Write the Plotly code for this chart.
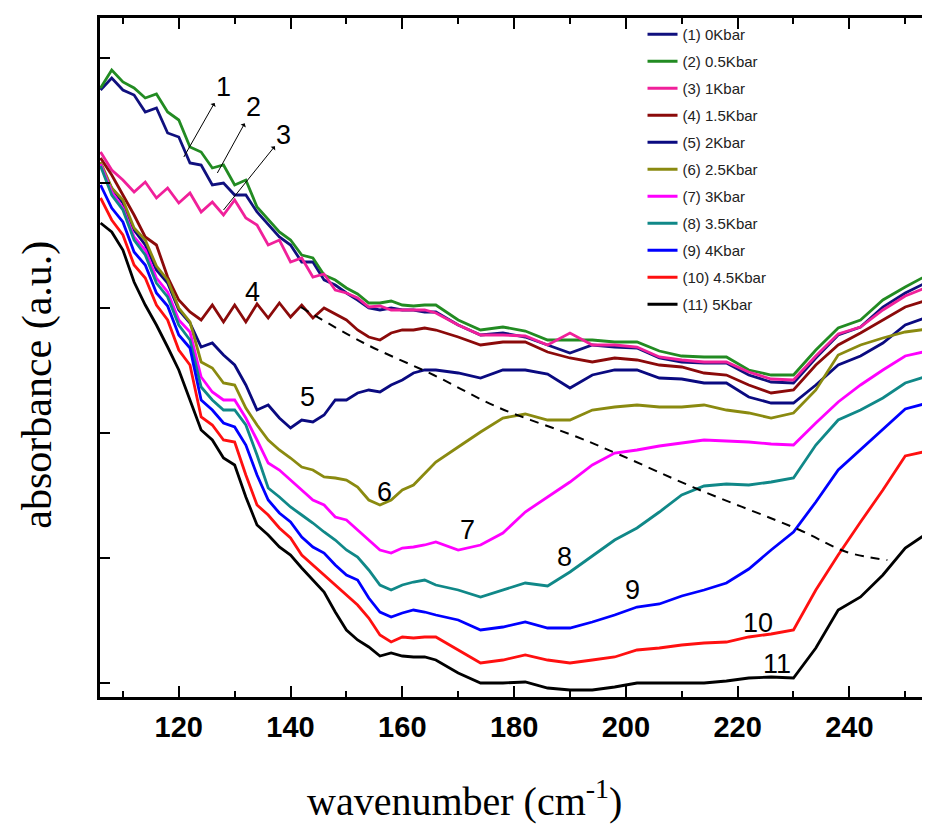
import plotly.graph_objects as go

# ---- data (wavenumber grid in cm^-1, absorbance in arbitrary units) ----
wavenumber = [106, 108, 110, 112, 114, 116, 118, 120, 122, 124, 126, 128, 130, 132, 134, 136,
              138, 140, 142, 144, 146, 148, 150, 152, 154, 156, 158, 160, 162, 164, 166,
              170, 174, 178, 182, 186, 190, 194, 198, 202, 206, 210, 214, 218, 222, 226, 230,
              234, 238, 242, 246, 250, 254]

abs_0kbar = [718, 730, 718, 713, 696, 700, 675, 671, 645, 643, 623, 625, 613, 613, 596, 583,
             571, 563, 546, 546, 528, 523, 515, 508, 500, 498, 500, 498, 498, 496, 496,
             483, 473, 475, 471, 463, 455, 463, 461, 460, 450, 446, 445, 445, 433, 426, 425,
             450, 473, 481, 501, 515, 526]
abs_05kbar = [720, 738, 726, 720, 710, 714, 696, 688, 661, 656, 640, 643, 623, 628, 601, 588,
              576, 568, 553, 550, 533, 528, 520, 514, 505, 505, 507, 503, 502, 503, 503,
              488, 478, 481, 477, 468, 468, 468, 466, 466, 457, 452, 451, 451, 438, 433, 433,
              458, 480, 488, 508, 521, 533]
abs_1kbar = [656, 638, 628, 616, 626, 610, 620, 605, 615, 596, 606, 593, 608, 590, 583, 563,
             568, 546, 550, 531, 534, 518, 515, 510, 501, 502, 498, 498, 498, 498, 495,
             483, 473, 473, 472, 463, 475, 463, 463, 461, 451, 448, 446, 446, 436, 429, 428,
             452, 474, 481, 498, 512, 521]
abs_15kbar = [650, 633, 613, 593, 571, 563, 531, 508, 496, 488, 503, 486, 503, 486, 504, 490,
              505, 491, 503, 490, 500, 494, 488, 478, 471, 468, 475, 478, 478, 480, 478,
              471, 463, 466, 466, 456, 450, 446, 450, 448, 443, 441, 435, 433, 423, 415, 418,
              443, 463, 475, 488, 501, 508]
abs_2kbar = [643, 620, 605, 578, 563, 538, 525, 498, 485, 461, 465, 453, 443, 423, 398, 403,
             390, 380, 388, 386, 393, 408, 408, 415, 418, 416, 423, 428, 435, 438, 438,
             435, 430, 438, 438, 434, 420, 433, 438, 438, 430, 429, 425, 425, 411, 405, 405,
             423, 443, 452, 465, 483, 491]
abs_25kbar = [646, 620, 608, 580, 568, 542, 528, 500, 486, 446, 440, 425, 423, 400, 383, 368,
              358, 350, 341, 338, 331, 330, 328, 321, 308, 303, 308, 318, 323, 335, 346,
              361, 376, 390, 394, 388, 388, 398, 401, 403, 401, 401, 403, 398, 395, 390, 395,
              418, 453, 463, 470, 476, 479]
abs_3kbar = [644, 616, 600, 571, 558, 530, 516, 488, 476, 431, 416, 408, 408, 390, 368, 345,
             338, 328, 318, 308, 303, 291, 288, 278, 268, 258, 255, 260, 261, 263, 266,
             258, 263, 275, 296, 311, 326, 343, 355, 358, 362, 365, 368, 367, 366, 364, 363,
             385, 406, 423, 438, 452, 457]
abs_35kbar = [642, 613, 598, 568, 553, 525, 511, 483, 468, 421, 408, 398, 398, 383, 353, 320,
              311, 301, 293, 285, 276, 268, 258, 251, 238, 223, 218, 223, 226, 228, 223,
              218, 211, 218, 225, 222, 236, 252, 268, 280, 296, 313, 322, 324, 323, 326, 330,
              363, 388, 398, 410, 425, 432]
abs_4kbar = [623, 600, 586, 556, 543, 515, 502, 473, 460, 408, 398, 385, 381, 363, 333, 308,
             295, 286, 271, 261, 255, 243, 233, 228, 210, 196, 191, 195, 198, 196, 193,
             188, 178, 181, 186, 180, 180, 186, 193, 201, 204, 212, 218, 225, 239, 258, 276,
             306, 338, 358, 378, 399, 405]
abs_45kbar = [610, 588, 573, 543, 530, 503, 488, 458, 443, 391, 383, 368, 366, 333, 303, 293,
              280, 270, 253, 243, 233, 223, 213, 203, 190, 173, 166, 171, 170, 171, 171,
              158, 145, 148, 153, 148, 145, 148, 151, 158, 160, 163, 165, 166, 171, 174, 178,
              218, 253, 286, 318, 352, 357]
abs_5kbar = [585, 576, 558, 526, 503, 483, 461, 438, 408, 378, 368, 350, 343, 311, 283, 273,
             261, 253, 240, 228, 216, 196, 178, 168, 161, 152, 155, 152, 151, 151, 148,
             135, 125, 125, 126, 120, 118, 118, 121, 125, 125, 125, 125, 127, 130, 131, 130,
             160, 198, 211, 233, 260, 275]

series_names = ["(1) 0Kbar", "(2) 0.5Kbar", "(3) 1Kbar", "(4) 1.5Kbar", "(5) 2Kbar",
                "(6) 2.5Kbar", "(7) 3Kbar", "(8) 3.5Kbar", "(9) 4Kbar", "(10) 4.5Kbar",
                "(11) 5Kbar"]
series_values = [abs_0kbar, abs_05kbar, abs_1kbar, abs_15kbar, abs_2kbar, abs_25kbar,
                 abs_3kbar, abs_35kbar, abs_4kbar, abs_45kbar, abs_5kbar]
series_colors = ["#10107e", "#228b22", "#f0209a", "#8b0a0a", "#0a0a80", "#8a8a10",
                 "#ff00ff", "#108888", "#0000ff", "#ff1010", "#000000"]

# dashed guide line through the band minimum shift
guide_x = [141.8, 153.1, 165.6, 177.0, 191.3, 199.0, 212.8, 231.1, 239.5, 246.8]
guide_y = [501, 465, 433, 401, 371, 353, 319, 278, 256, 248]

# curve labels
label_text = ["4", "5", "6", "7", "8", "9", "10", "11"]
label_x = [133.2, 143.0, 156.8, 171.7, 189.0, 201.2, 223.7, 227.1]
label_y = [516, 411, 316, 278, 251, 218, 185, 144]

# arrow labels for curves 1-3 (label position and the curve point the arrow starts from)
arrow_text = ["1", "2", "3"]
arrow_text_x = [128.0, 133.4, 138.8]
arrow_text_y = [721, 701, 673]
arrow_tail_x = [120.9, 126.9, 128.0]
arrow_tail_y = [651, 635, 598]

fig = go.Figure()

for i, (name, vals, col) in enumerate(zip(series_names, series_values, series_colors)):
    fig.add_trace(go.Scatter(
        x=wavenumber, y=vals, mode="lines", name=name,
        line=dict(color=col, width=2.8),
        legendgroup=f"g{i}",
    ))

fig.add_trace(go.Scatter(
    x=guide_x, y=guide_y, mode="lines", showlegend=False,
    line=dict(color="black", width=2, dash="9px,7px", shape="spline"),
))

label_font = dict(family="Liberation Sans, Arial", size=27, color="black")
annotations = []
for t, x, y in zip(label_text, label_x, label_y):
    annotations.append(dict(x=x, y=y, text=t, showarrow=False, font=label_font))
for t, x, y, tx, ty in zip(arrow_text, arrow_text_x, arrow_text_y, arrow_tail_x, arrow_tail_y):
    annotations.append(dict(x=tx, y=ty, ax=x, ay=y, axref="x", ayref="y", text=t,
                            font=label_font, showarrow=True, arrowside="start",
                            arrowhead=2, arrowsize=1.4, arrowwidth=1, arrowcolor="black",
                            startstandoff=0, standoff=0))

annotations.append(dict(xref="paper", yref="paper", x=0.444, y=-0.149,
                        text="wavenumber (cm<sup>-1</sup>)", showarrow=False,
                        xanchor="center", yanchor="middle",
                        font=dict(family="Liberation Serif, Times New Roman", size=40, color="black")))
annotations.append(dict(xref="paper", yref="paper", x=-0.0754, y=0.46,
                        text="absorbance (a.u.)", showarrow=False, textangle=-90,
                        xanchor="center", yanchor="middle",
                        font=dict(family="Liberation Serif, Times New Roman", size=42, color="black")))

fig.update_layout(
    width=914, height=816,
    margin=dict(l=92, r=0, t=10, b=127),
    paper_bgcolor="white", plot_bgcolor="white",
    annotations=annotations,
    legend=dict(x=0.66, y=1.0, xanchor="left", yanchor="top",
                bgcolor="rgba(0,0,0,0)", tracegroupgap=4.5,
                font=dict(family="Liberation Sans, Arial", size=15, color="#222")),
)

fig.update_xaxes(
    range=[105.9, 253.0], tick0=120, dtick=20,
    ticks="inside", ticklen=11, tickwidth=2, tickcolor="black",
    minor=dict(ticks="inside", ticklen=6, tickwidth=2, dtick=10, tick0=110, tickcolor="black"),
    showline=True, linewidth=2.5, linecolor="black", mirror="ticks",
    showgrid=False, zeroline=False,
    ticklabelstandoff=2,
    tickfont=dict(family="Liberation Sans Narrow, Arial Narrow, Liberation Sans", size=29,
                  color="black", weight="bold"),
)
fig.update_yaxes(
    range=[111, 790], tick0=125, dtick=125,
    ticks="inside", ticklen=10, tickwidth=2, tickcolor="black",
    showticklabels=False,
    showline=True, linewidth=2.5, linecolor="black", mirror=False,
    showgrid=False, zeroline=False,
)

fig.write_html("out.html")
